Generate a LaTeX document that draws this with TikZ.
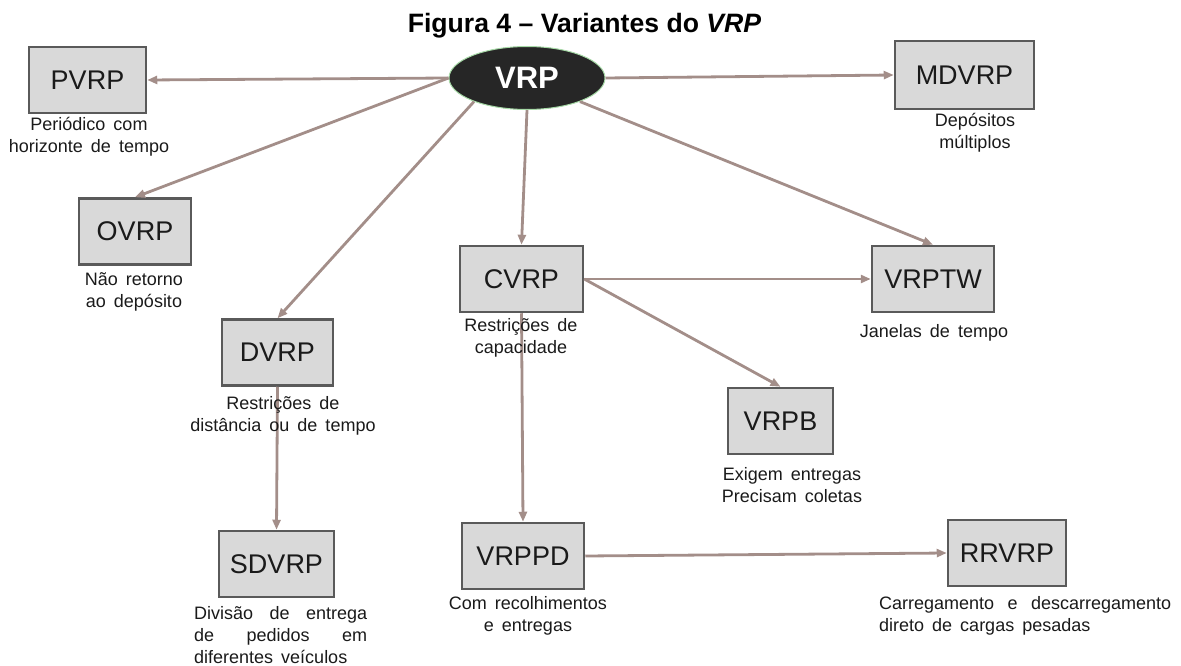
\documentclass[tikz,border=0pt]{standalone}
\usepackage{fontspec}
\setmainfont{Liberation Sans}
\newfontfamily\subf{Liberation Sans}[WordSpace=1.6]
\usetikzlibrary{arrows.meta,shapes.geometric}
\definecolor{boxfill}{HTML}{D9D9D9}
\definecolor{boxline}{HTML}{5A5A5A}
\definecolor{arr}{HTML}{A38E89}
\definecolor{ell}{HTML}{262626}
\definecolor{ellline}{HTML}{A6D9A6}
\definecolor{txt}{HTML}{1A1A1A}
\begin{document}
\begin{tikzpicture}[x=1pt,y=-1pt,
  vbox/.style={draw=boxline, line width=2.5pt, fill=boxfill, inner sep=0pt, text=txt,
               font=\fontsize{27}{32}\selectfont, minimum height=66pt},
  sub/.style={align=center, text=txt, font=\subf\fontsize{18}{22}\selectfont, inner sep=0pt},
  conn/.style={draw=arr, line width=2.8pt, -{Triangle[length=10pt,width=8pt]}}]
\useasboundingbox (0,0) rectangle (1181,666);

% title
\node[anchor=base, inner sep=0pt, font=\bfseries\fontsize{26.6}{31}\selectfont] (title) at (584.5,32.5)
  {Figura 4 – Variantes do \textit{VRP}};

% root
\node[ellipse, draw=ellline, line width=1pt, fill=ell, minimum width=156pt, minimum height=63pt,
      inner sep=0pt, text=white, font=\bfseries\fontsize{31}{36}\selectfont] (vrp) at (527,78) {VRP};

% boxes
\node[vbox, minimum width=117pt] (pvrp)  at (87.5,80)  {PVRP};
\node[vbox, minimum width=139pt, minimum height=68pt] (mdvrp) at (964.5,75) {MDVRP};
\node[vbox, minimum width=112pt] (ovrp)  at (135,231.5) {OVRP};
\node[vbox, minimum width=123pt] (cvrp)  at (521.5,279) {CVRP};
\node[vbox, minimum width=122pt] (vrptw) at (933,279)  {VRPTW};
\node[vbox, minimum width=111pt] (dvrp)  at (277.5,352.5) {DVRP};
\node[vbox, minimum width=105pt] (vrpb)  at (780.5,421) {VRPB};
\node[vbox, minimum width=115pt] (sdvrp) at (276.5,564) {SDVRP};
\node[vbox, minimum width=122pt] (vrppd) at (523,556)  {VRPPD};
\node[vbox, minimum width=118pt] (rrvrp) at (1007,553) {RRVRP};

% connectors
\draw[conn] (vrp.west) -- (pvrp.east);
\draw[conn] (vrp.west) -- (ovrp.north);
\draw[conn] (vrp.204) -- (dvrp.north);
\draw[conn] (vrp.south) -- (cvrp.north);
\draw[conn] (vrp.-24) -- (vrptw.north);
\draw[conn] (vrp.east) -- (mdvrp.west);
\draw[conn] (cvrp.east) -- (vrptw.west);
\draw[conn] (cvrp.east) -- (vrpb.north);
\draw[conn] (cvrp.south) -- (vrppd.north);
\draw[conn] (dvrp.south) -- (sdvrp.north);
\draw[conn] (vrppd.east) -- (rrvrp.west);

% sub labels
\node[sub] (pvrpl)  at (89,137)    {Periódico com\\horizonte de tempo};
\node[sub] (mdvrpl) at (975,132.5) {Depósitos\\múltiplos};
\node[sub] (ovrpl)  at (134,291.5) {Não retorno\\ao depósito};
\node[sub] (cvrpl)  at (521,338)   {Restrições de\\capacidade};
\node[sub] (vrptwl) at (934,333)   {Janelas de tempo};
\node[sub] (dvrpl)  at (283,415.5) {Restrições de\\distância ou de tempo};
\node[sub] (vrpbl)  at (792,485)   {Exigem entregas\\Precisam coletas};
\node[sub] (vrppdl) at (528,615.5) {Com recolhimentos\\e entregas};
\node[sub, align=left, anchor=west] (sdvrpl) at (194,635)
  {\hbox to 173pt{Divisão\hfill de\hfill entrega}\\\hbox to 173pt{de\hfill pedidos\hfill em}\\diferentes veículos};
\node[sub, align=left, anchor=west] (rrvrpl) at (879,615.5)
  {\hbox to 292pt{Carregamento\hfill e\hfill descarregamento}\\direto de cargas pesadas};
\end{tikzpicture}
\end{document}
